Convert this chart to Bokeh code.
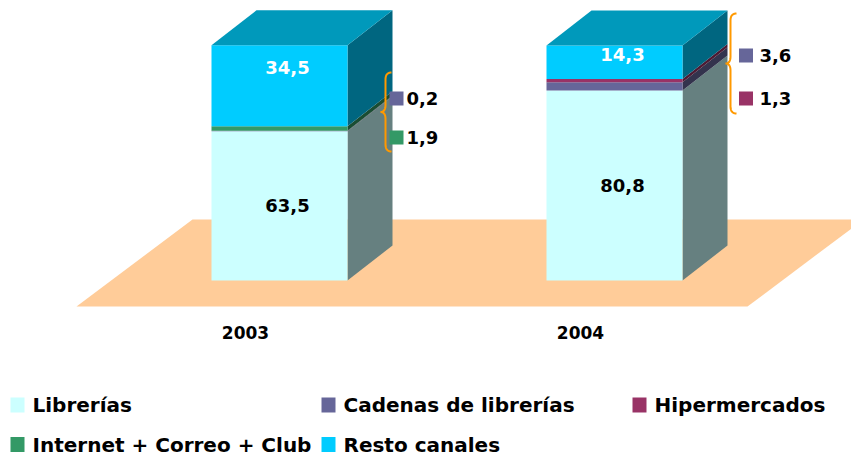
import numpy as np
from bokeh.plotting import figure
from bokeh.models import Range1d
from bokeh.core.properties import value
from bokeh.embed import file_html
from bokeh.resources import INLINE

# ---------------- data ----------------
years = ["2003", "2004"]
series = ["Librerías", "Cadenas de librerías", "Hipermercados",
          "Internet + Correo + Club", "Resto canales"]
librerias = [63.5, 80.8]
cadenas = [0.2, 3.6]
hipermercados = [0.0, 1.3]
internet = [1.9, 0.0]
resto = [34.5, 14.3]
values_by_series = [librerias, cadenas, hipermercados, internet, resto]
value_labels = {
    "Librerías": ["63,5", "80,8"],
    "Cadenas de librerías": ["0,2", "3,6"],
    "Hipermercados": ["", "1,3"],
    "Internet + Correo + Club": ["1,9", ""],
    "Resto canales": ["34,5", "14,3"],
}

# ---------------- style ----------------
front_colors = ["#CCFFFF", "#666699", "#993366", "#339966", "#00CCFF"]
side_colors = ["#668080", "#33334D", "#4D1A33", "#1A4D33", "#006680"]
top_colors = ["#99CCCC", "#4D4D80", "#802050", "#267350", "#0099BB"]
FONT = value("DejaVu Sans")

W, H = 851, 457
OFF = 0                      # figure's page offset
CX0, CXS = 279.0, 335.0     # page x of first category centre, spacing
Y0, YS = 280.0, 2.35        # page y of value 0, pixels per unit


def ux(px):
    return (px - CX0) / CXS


def vy(py):
    return (Y0 - py) / YS


BW = 136 / CXS           # bar front width (units)
DX = 45 / CXS            # depth offset x
DY = 35 / YS             # depth offset y

p = figure(width=W, height=H, output_backend="svg", toolbar_location=None,
           x_range=Range1d(ux(OFF), ux(OFF + W)), y_range=Range1d(vy(OFF + H), vy(OFF)),
           x_axis_location=None, y_axis_location=None, min_border=0)
p.grid.visible = False
p.outline_line_color = None
p.background_fill_color = "white"

# floor
fx = [ux(76), ux(192), ux(863), ux(747)]
fy = [vy(306), vy(219), vy(219), vy(306)]
p.patch(fx, fy, fill_color="#FFCC99", line_color=None)

# bars
for i, yr in enumerate(years):
    x0, x1 = i - BW / 2, i + BW / 2
    base = 0.0
    segs = []
    for k, vals in enumerate(values_by_series):
        v = vals[i]
        segs.append((base, base + v, k))
        base += v
    sxs, sys_, scol = [], [], []
    for b, t, k in segs:
        if t - b <= 0:
            continue
        sxs.append([x1, x1 + DX, x1 + DX, x1])
        sys_.append([b, b + DY, t + DY, t])
        scol.append(side_colors[k])
    p.patches(sxs, sys_, fill_color=scol, line_color=None)
    fl, fr, fb, ft, fc = [], [], [], [], []
    for b, t, k in segs:
        if t - b <= 0:
            continue
        fl.append(x0); fr.append(x1); fb.append(b); ft.append(t)
        fc.append(front_colors[k])
    p.quad(left=fl, right=fr, bottom=fb, top=ft, fill_color=fc, line_color=None)
    topk = [k for b, t, k in segs if t - b > 0][-1]
    p.patch([x0, x0 + DX, x1 + DX, x1], [base, base + DY, base + DY, base],
            fill_color=top_colors[topk], line_color=None)

    lib_b, lib_t, _ = segs[0]
    p.text([i + 8 / CXS], [(lib_b + lib_t) / 2], text=[value_labels["Librerías"][i]],
           text_font=FONT, text_font_style="bold", text_font_size="18px",
           text_align="center", text_baseline="middle", text_color="black")
    r_b, r_t, _ = segs[4]
    p.text([i + 8 / CXS], [r_t - 0.27 * (r_t - r_b)], text=[value_labels["Resto canales"][i]],
           text_font=FONT, text_font_style="bold", text_font_size="18px",
           text_align="center", text_baseline="middle", text_color="white")

# year labels
p.text([i + ux(245) - ux(279) for i in range(len(years))], [vy(332)] * len(years), text=years,
       text_font=FONT, text_font_style="bold", text_font_size="17px",
       text_align="center", text_baseline="middle", text_color="black")

# callouts for small segments
brace_x = [385, 730]
brace_top = [72, 13]
brace_bot = [151, 113]
item_y = [[98, 137], [55, 98]]
sq_cx = [396, 745.5]
txt_x = [406, 759]


def qbez(p0, c, p1, n=12):
    t = np.linspace(0, 1, n)[:, None]
    return (1 - t) ** 2 * np.array(p0) + 2 * (1 - t) * t * np.array(c) + t ** 2 * np.array(p1)


for i in range(len(years)):
    sx, top, bot = brace_x[i], brace_top[i], brace_bot[i]
    mid = (top + bot) / 2
    r = 7
    pts = np.vstack([
        qbez((sx + 6, top), (sx, top), (sx, top + r)),
        qbez((sx, mid - r), (sx, mid), (sx - 5, mid)),
        qbez((sx - 5, mid), (sx, mid), (sx, mid + r)),
        qbez((sx, bot - r), (sx, bot), (sx + 6, bot)),
    ])
    p.line([ux(x) for x in pts[:, 0]], [vy(y) for y in pts[:, 1]],
           line_color="#FF9900", line_width=2)
    small = [(k, vals[i]) for k, vals in enumerate(values_by_series) if 0 < vals[i] < 5]
    for j, (k, v) in enumerate(small):
        yy = item_y[i][j]
        p.rect([ux(sq_cx[i])], [vy(yy)], width=14, height=14,
               width_units="screen", height_units="screen",
               fill_color=front_colors[k], line_color=None)
        p.text([ux(txt_x[i])], [vy(yy)], text=[value_labels[series[k]][i]],
               text_font=FONT, text_font_style="bold", text_font_size="18px",
               text_align="left", text_baseline="middle", text_color="black")

# legend (manual, 3 columns x 2 rows)
leg_cols = [10, 321, 632]
leg_rows = [404.5, 444]
for k, name in enumerate(series):
    r_, c_ = divmod(k, 3)
    lx, ly = leg_cols[c_], leg_rows[r_]
    p.rect([ux(lx + 7)], [vy(ly)], width=14, height=15,
           width_units="screen", height_units="screen",
           fill_color=front_colors[k], line_color=None)
    p.text([ux(lx + 22)], [vy(ly)], text=[name],
           text_font=FONT, text_font_style="bold", text_font_size="20px",
           text_align="left", text_baseline="middle", text_color="black")

open("out.html", "w").write(file_html(p, INLINE))
